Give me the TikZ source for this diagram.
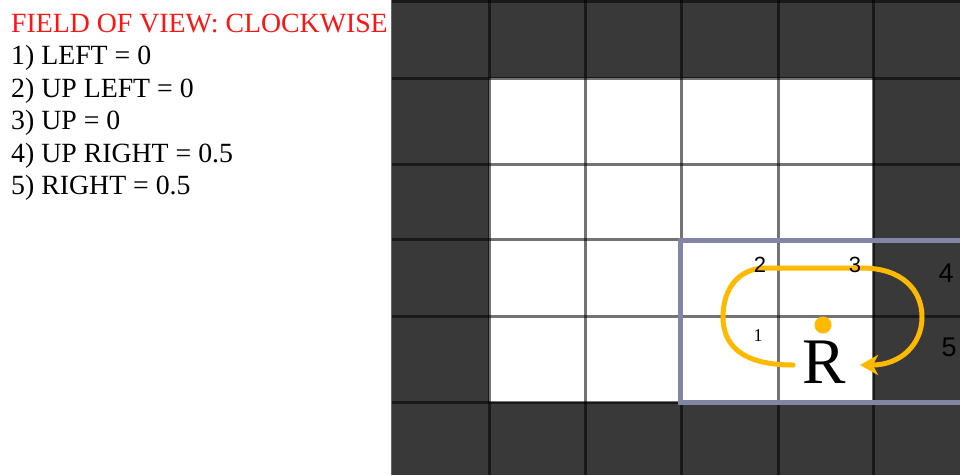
\documentclass[tikz,border=0pt]{standalone}
\usepackage{fontspec}
\setmainfont{Liberation Serif}
\newfontfamily\numfont{Liberation Sans}
\usetikzlibrary{arrows.meta}
\definecolor{cellgray}{RGB}{57,57,57}
\definecolor{fovpurple}{RGB}{132,132,166}
\definecolor{pathorange}{RGB}{255,186,0}
\definecolor{titlered}{RGB}{255,20,20}
\tikzset{
  listtext/.style={anchor=base west, inner sep=0pt, font=\fontsize{27.8}{33}\selectfont},
  gridline/.style={draw=black, draw opacity=0.55, line width=3pt},
  bignum/.style={inner sep=0pt, text=black, font=\numfont\fontsize{27}{30}\selectfont},
  smallnum/.style={inner sep=0pt, text=black, font=\numfont\fontsize{22}{24}\selectfont},
  fovbox/.style={draw=fovpurple, line width=5pt},
  turnpath/.style={draw=pathorange, line width=5pt, line cap=round},
}
\begin{document}
\begin{tikzpicture}[x=1pt,y=-1pt]
\useasboundingbox (0,0) rectangle (960,475);
\clip (0,0) rectangle (960,475);
\fill[white] (0,0) rectangle (960,475);
% grid
\fill[cellgray] (391,0) rectangle (960,475);
\fill[white] (489,78) rectangle (873,402);
\foreach \gx in {489,585,681,778,873} \draw[gridline] (\gx,0) -- (\gx,475);
\foreach \gy in {1.5,78,164,239,316,402} \draw[gridline] (391,\gy) -- (960,\gy);
\draw[black!60, line width=1pt] (391,0) -- (391,475);
% field of view box
\draw[fovbox] (680,240) rectangle (1000,402);
% text list
\node[listtext, text=titlered] (title) at (11,32) {FIELD OF VIEW: CLOCKWISE};
\node[listtext] (l1) at (11,64.5) {1) LEFT = 0};
\node[listtext] (l2) at (11,97) {2) UP LEFT = 0};
\node[listtext] (l3) at (11,129.5) {3) UP = 0};
\node[listtext] (l4) at (11,162) {4) UP RIGHT = 0.5};
\node[listtext] (l5) at (11,194.5) {5) RIGHT = 0.5};
% robot
\node[inner sep=0pt, anchor=base, font=\fontsize{65}{70}\selectfont] (robot) at (824,383) {R};
\fill[pathorange] (823,325) circle (8.5);
% turn arrow
\coordinate (start) at (793,365);
\coordinate (tip) at (860,365);
\draw[turnpath, -{Stealth[length=18pt,width=20pt,inset=5pt]}] (start) .. controls (738,365) and (723,342) .. (723,317)
  .. controls (723,287) and (740,268) .. (766,268) -- (862,268)
  .. controls (902,268) and (922,290) .. (922,317)
  .. controls (922,345) and (900,365) .. (tip);
% numbers
\node[smallnum] (n2) at (760,265) {2};
\node[smallnum] (n3) at (855,265) {3};
\node[inner sep=0pt, font=\fontsize{18}{20}\selectfont] (n1) at (758,336) {1};
\node[bignum] (n4) at (946,273) {4};
\node[bignum] (n5) at (949,347) {5};
\end{tikzpicture}
\end{document}
